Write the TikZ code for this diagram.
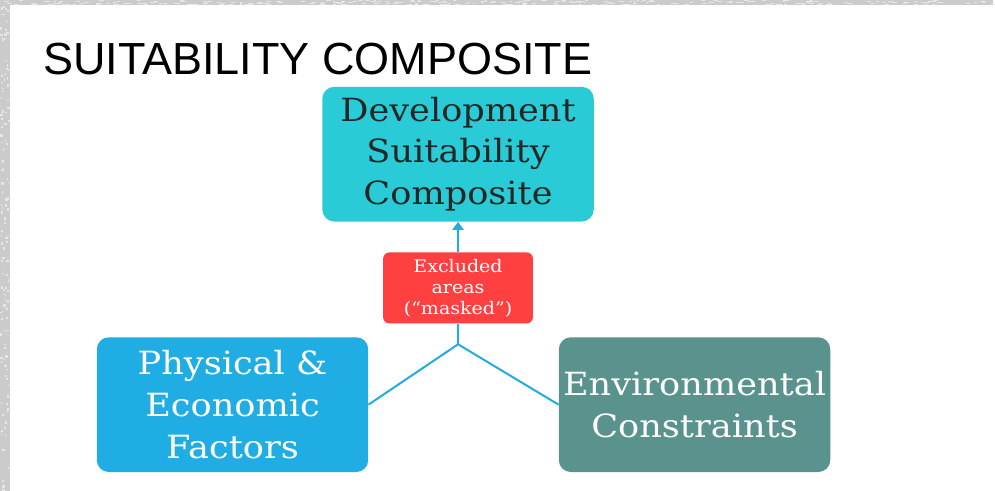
\documentclass[tikz,border=0pt]{standalone}
\usepackage{fontspec}
\setmainfont[FakeStretch=1.1]{DejaVu Serif}
\newfontfamily\titlefont{Liberation Sans}
\usetikzlibrary{arrows.meta}

\definecolor{framegray}{HTML}{CBCBCB}
\definecolor{speck}{HTML}{E6E6E6}
\definecolor{tealbox}{HTML}{29CCD6}
\definecolor{bluebox}{HTML}{1FADE4}
\definecolor{greenbox}{HTML}{5A928D}
\definecolor{redbox}{HTML}{FF4040}
\definecolor{linkblue}{HTML}{1FADE4}
\definecolor{darktext}{HTML}{262626}

\tikzset{
  bigbox/.style={rounded corners=9pt, minimum width=204pt, minimum height=101.25pt,
    inner sep=0pt, align=center, font=\fontsize{24}{31.5}\selectfont},
  maskbox/.style={rounded corners=4.5pt, minimum width=112.5pt, minimum height=53.25pt,
    inner sep=0pt, align=center, fill=redbox, text=white,
    font=\fontsize{13}{15.75}\selectfont},
  link/.style={draw=linkblue, line width=1.5pt},
}

\begin{document}
\begin{tikzpicture}[x=0.75pt, y=-0.75pt]
  % slide page with grey textured frame on the top and left
  \fill[framegray] (0,0) rectangle (995,492);
  \pgfmathsetseed{7}
  \foreach \i in {1,...,260} {
    \pgfmathsetmacro{\px}{rnd*995}
    \pgfmathsetmacro{\py}{rnd*4.5}
    \fill[speck] (\px,\py) rectangle ++(2+rnd*4,1);
  }
  \foreach \i in {1,...,120} {
    \pgfmathsetmacro{\py}{rnd*492}
    \pgfmathsetmacro{\px}{rnd*8}
    \fill[speck] (\px,\py) rectangle ++(1+rnd*2,1+rnd*2);
  }
  \fill[white] (10,5) rectangle (995,492);
  \useasboundingbox (0,0) rectangle (995,492);

  % title
  \node[anchor=base west, inner sep=0pt, font=\titlefont\fontsize{33.8}{40}\selectfont]
    (title) at (43,75) {SUITABILITY COMPOSITE};

  % boxes
  \node[bigbox, fill=tealbox, text=darktext] (dsc) at (459,154.5)
    {Development\\Suitability\\Composite};
  \node[maskbox] (mask) at (459,288.5) {Excluded\\areas\\(“masked”)};
  \node[bigbox, fill=bluebox, text=white] (phys) at (233,405.5)
    {Physical \&\\Economic\\Factors};
  \node[bigbox, fill=greenbox, text=white] (env) at (696,405.5)
    {Environmental\\Constraints};

  % connectors
  \coordinate (join) at (459,345);
  \draw[link] (phys.east) -- (join) -- (env.west);
  \draw[link] (join) -- (mask.south);
  \draw[link, -{Triangle[length=6pt, width=8.25pt]}] (mask.north) -- (dsc.south);
\end{tikzpicture}
\end{document}
